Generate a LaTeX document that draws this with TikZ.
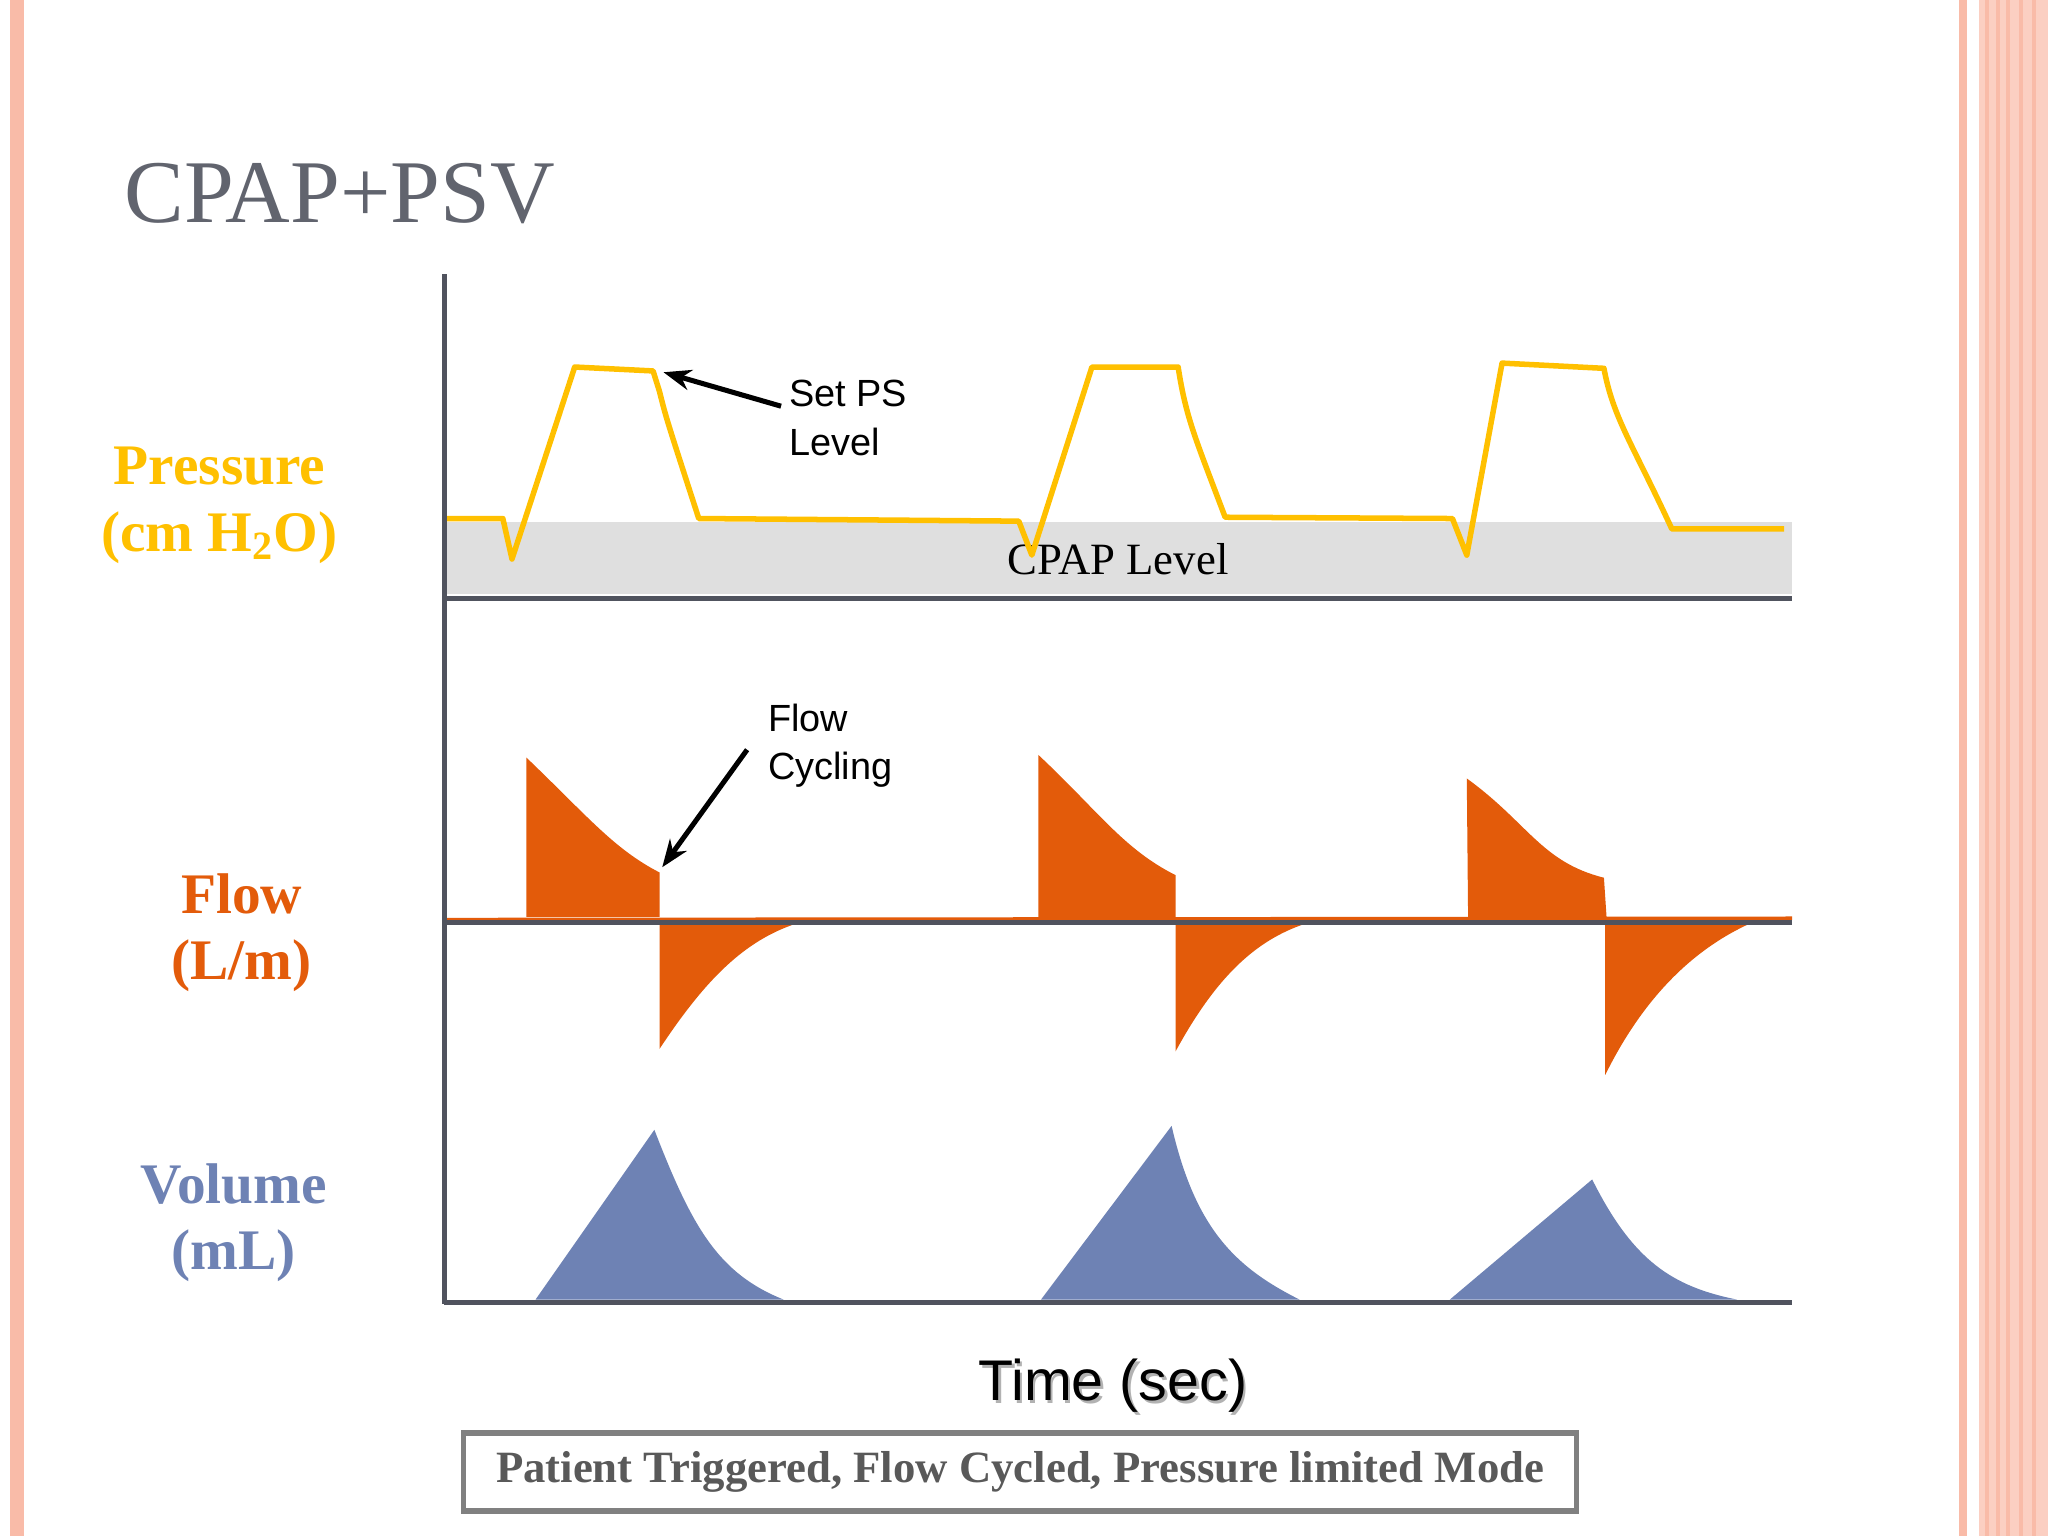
\documentclass[tikz,border=0pt]{standalone}
\usepackage{fontspec}
\setmainfont{Liberation Serif}
\setsansfont{Liberation Sans}
\usetikzlibrary{arrows.meta}
\definecolor{pyel}{HTML}{FFC000}
\definecolor{forg}{HTML}{E35B0A}
\definecolor{vblu}{HTML}{6E82B4}
\definecolor{axg}{HTML}{50535E}
\definecolor{pinkb}{HTML}{F9BBA8}
\tikzset{
 axis/.style={draw=axg,line width=2.2pt},
 lbl/.style={font=\bfseries\fontsize{25}{29}\selectfont,align=center},
 note/.style={font=\sffamily\fontsize{16.5}{21}\selectfont,anchor=west,align=left},
 arr/.style={-{Stealth[length=12pt,width=9pt]},line width=2.2pt,black},
}
\begin{document}
\begin{tikzpicture}[x=0.02cm,y=-0.02cm]
\useasboundingbox (0,0) rectangle (1568,1176);
\fill[white] (0,0) rectangle (1568,1176);
\fill[pinkb] (8,0) rectangle (18,1176);
\fill[pinkb] (1500,0) rectangle (1506,1176);
\fill[pinkb!70] (1515,0) rectangle (1568,1176);
\foreach \x in {1520,1528,1536,1546,1556} \fill[pinkb] (\x,0) rectangle (\x+3,1176);
\node[font=\fontsize{39}{44}\selectfont,text=axg!90] (title) at (260,148) {CPAP+PSV};
% gray band
\fill[gray!25] (342,400) rectangle (1372,455);
\node[font=\fontsize{19.5}{22}\selectfont] (cpap) at (856,428) {CPAP Level};
% pressure
\draw[pyel,line width=2.4pt,line join=round] (340,397)--(385,397)--(392,428)--(440,281)--(500,284)--(505,300) .. controls (510,320) .. (535,397)--(780,399)--(790,425)--(836,281)--(902,281) .. controls (908,320) and (915,335) .. (938,396)--(1112,397)--(1123,425)--(1150,278)--(1228,282) .. controls (1235,320) and (1250,340) .. (1280,405)--(1366,405);
% flow
\fill[forg] (403,702)--(403,580) .. controls (450,625) and (470,650) .. (505,668)--(505,702)--cycle;
\fill[forg] (505,708)--(505,803) .. controls (540,750) and (570,720) .. (610,707)--cycle;
\fill[forg] (795,702)--(795,578) .. controls (840,620) and (860,650) .. (900,670)--(900,702)--cycle;
\fill[forg] (900,708)--(900,805) .. controls (930,750) and (960,720) .. (1000,707)--cycle;
\fill[forg] (1124,702)--(1123,596) .. controls (1170,630) and (1180,660) .. (1228,672)--(1230,702)--cycle;
\fill[forg] (1229,708)--(1229,823) .. controls (1260,760) and (1300,725) .. (1340,707)--cycle;
\draw[forg,line width=1.5pt] (342,704)--(1372,703);
% volume
\fill[vblu] (410,995)--(501,865) .. controls (530,940) and (550,975) .. (600,995)--cycle;
\fill[vblu] (797,995)--(897,862) .. controls (915,940) and (945,970) .. (995,995)--cycle;
\fill[vblu] (1110,995)--(1219,903) .. controls (1250,965) and (1280,985) .. (1330,995)--cycle;
% axes
\draw[axis] (340,210)--(340,998);
\draw[axis] (340,458)--(1372,458);
\draw[axis] (340,706)--(1372,706);
\draw[axis] (340,997)--(1372,997);
% annotations
\node[note] (ps) at (598,320) {Set PS\\Level};
\coordinate (pst) at (508,285);
\draw[arr] (598,311)--(pst);
\node[note] (fc) at (582,571) {Flow\\Cycling};
\coordinate (fct) at (507,664);
\draw[arr] (572,574)--(fct);
% labels
\node[lbl,text=pyel] (pl) at (168,387) {Pressure\\(cm H\textsubscript{2}O)};
\node[lbl,text=forg] (fl) at (185,714) {Flow\\(L/m)};
\node[lbl,text=vblu] (vl) at (179,936) {Volume\\(mL)};
\node[font=\sffamily\fontsize{25}{29}\selectfont,text=gray!60] at (854,1063) {Time (sec)};
\node[font=\sffamily\fontsize{25}{29}\selectfont] (time) at (852,1061) {Time (sec)};
\node[draw=gray,line width=2.4pt,minimum width=852*0.02cm,minimum height=60*0.02cm,font=\bfseries\fontsize{19.5}{22}\selectfont,text=black!65] (mode) at (781,1127) {Patient Triggered, Flow Cycled, Pressure limited Mode};
\end{tikzpicture}
\end{document}
